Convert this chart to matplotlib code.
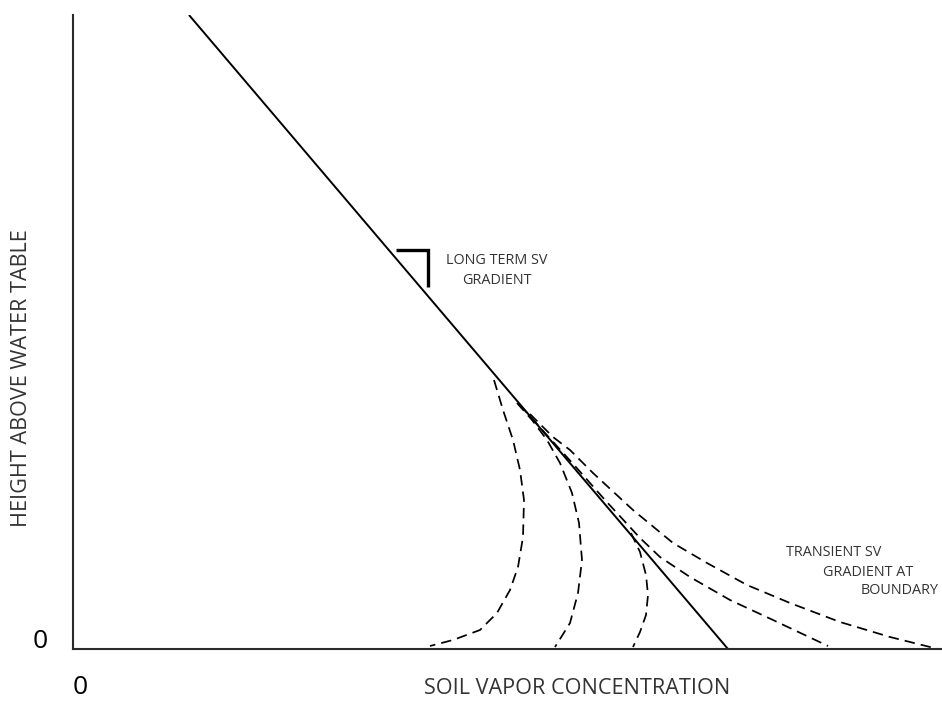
import matplotlib
matplotlib.use("Agg")
import matplotlib.pyplot as plt

plt.rcParams['font.family'] = ['Liberation Sans Narrow', 'Open Sans', 'DejaVu Sans']

# long term soil vapour gradient (straight line)
long_conc = [116, 655]
long_height = [634, 0]

# transient profiles
t1_conc = [421, 430, 440, 447, 451, 450, 445, 437, 424, 407, 380, 357]
t1_height = [269, 239, 209, 179, 149, 112, 82, 59, 36, 19, 9, 3]

t2_conc = [444, 459, 474, 487, 499, 506, 509, 505, 497, 482]
t2_height = [246, 229, 209, 186, 156, 126, 89, 56, 26, 2]

t3_conc = [558, 567, 573, 575, 573, 567, 560]
t3_height = [116, 97, 74, 54, 34, 17, 2]

t4_conc = [447, 472, 502, 532, 567, 587, 617, 657, 700, 755]
t4_height = [244, 216, 183, 149, 111, 92, 72, 49, 29, 3]

t5_conc = [457, 480, 497, 520, 560, 600, 634, 674, 717, 767, 817, 865]
t5_height = [235, 212, 199, 176, 139, 106, 86, 64, 46, 27, 12, 0]

transients = [(t1_conc, t1_height), (t2_conc, t2_height), (t3_conc, t3_height),
              (t4_conc, t4_height), (t5_conc, t5_height)]

fig = plt.figure(figsize=(9.42, 7.02), dpi=100)
ax = fig.add_axes([73 / 942, 53 / 702, 869 / 942, 634 / 702])
ax.set_xlim(0, 869)
ax.set_ylim(0, 634)

ax.plot(long_conc, long_height, color='black', lw=1.4, solid_capstyle='butt')
for c, h in transients:
    ax.plot(c, h, color='black', lw=1.25, dashes=(6, 3.5))

# slope marker
ax.plot([323, 355, 355], [399, 399, 362], color='black', lw=2.4,
        solid_joinstyle='miter', solid_capstyle='butt')

txt = '#333333'
small = 10.4
ax.text(424, 388, 'LONG TERM SV', ha='center', va='center', fontsize=small, color=txt)
ax.text(424, 368, 'GRADIENT', ha='center', va='center', fontsize=small, color=txt)

ax.text(808, 97, 'TRANSIENT SV', ha='right', va='center', fontsize=small, color=txt)
ax.text(840, 77, 'GRADIENT AT', ha='right', va='center', fontsize=small, color=txt)
ax.text(866, 58, 'BOUNDARY', ha='right', va='center', fontsize=small, color=txt, clip_on=False)

ax.text(-51, 271, 'HEIGHT ABOVE WATER TABLE', rotation=90, ha='center', va='center',
        fontsize=15.6, color=txt, clip_on=False)
ax.text(504, -39, 'SOIL VAPOR CONCENTRATION', ha='center', va='center',
        fontsize=15.6, color=txt, clip_on=False)
ax.text(-33, 7, '0', ha='center', va='center', fontsize=19, color='black', clip_on=False)
ax.text(7, -39, '0', ha='center', va='center', fontsize=19, color='black', clip_on=False)

for s in ['top', 'right']:
    ax.spines[s].set_visible(False)
for s in ['left', 'bottom']:
    ax.spines[s].set_color('#2b2b2b')
    ax.spines[s].set_linewidth(1.5)
ax.set_xticks([])
ax.set_yticks([])
ax.patch.set_alpha(0)

fig.savefig('out.png', dpi=100)
